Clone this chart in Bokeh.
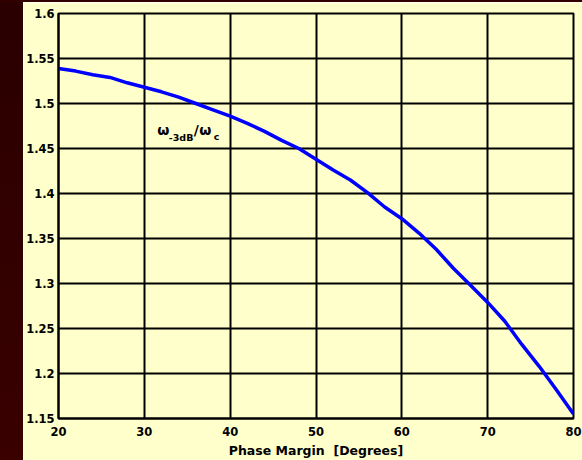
from bokeh.plotting import figure
from bokeh.layouts import row, column
from bokeh.models import Div, FixedTicker
from bokeh.core.properties import value
from bokeh.embed import file_html
from bokeh.resources import INLINE

# Bandwidth ratio w(-3dB)/wc versus phase margin
phase_margin = [20, 22, 24, 26, 28, 30, 32, 34, 36, 38, 40, 42, 44, 46, 48, 50,
                52, 54, 56, 58, 60, 62, 64, 66, 68, 70, 72, 74, 76, 78, 80]
bw_ratio = [1.539, 1.536, 1.532, 1.529, 1.523, 1.518, 1.513, 1.507, 1.500, 1.493,
            1.486, 1.478, 1.469, 1.459, 1.450, 1.438, 1.426, 1.415, 1.401, 1.385,
            1.372, 1.356, 1.338, 1.317, 1.298, 1.279, 1.258, 1.232, 1.208, 1.182, 1.155]

x_ticks = [20, 30, 40, 50, 60, 70, 80]
y_ticks = [1.15, 1.2, 1.25, 1.3, 1.35, 1.4, 1.45, 1.5, 1.55, 1.6]
y_tick_labels = {1.15: "1.15", 1.2: "1.2", 1.25: "1.25", 1.3: "1.3", 1.35: "1.35",
                 1.4: "1.4", 1.45: "1.45", 1.5: "1.5", 1.55: "1.55", 1.6: "1.6"}

# Label pieces for the curve name: (text, x, y, size)
curve_name = [("ω", 31.51, 1.4711, "14px"),
              ("-3dB", 32.85, 1.4622, "9.5px"),
              ("/", 35.76, 1.4711, "14px"),
              ("ω", 36.40, 1.4711, "14px"),
              ("c", 38.08, 1.4633, "9.5px")]

BG = "#FFFFCC"
DARK = "linear-gradient(#2a0000, #3a0000)"
FONT = "DejaVu Sans"

p = figure(width=559, height=458, x_range=(20, 80), y_range=(1.15, 1.6),
           output_backend="svg", toolbar_location=None,
           background_fill_color=BG, border_fill_color=BG,
           min_border_left=34, min_border_top=11, min_border_right=9,
           min_border_bottom=41)

p.line(phase_margin, bw_ratio, line_color="#0000FF", line_width=3.5)

for txt, tx, ty, size in curve_name:
    p.text(x=[tx], y=[ty], text=[txt], text_font=value(FONT),
           text_font_size=size, text_font_style="bold", text_color="black",
           text_baseline="alphabetic", text_align="left")

p.xaxis.ticker = FixedTicker(ticks=x_ticks)
p.yaxis.ticker = FixedTicker(ticks=y_ticks)
p.yaxis.major_label_overrides = y_tick_labels

for ax in (p.xaxis[0], p.yaxis[0]):
    ax.major_label_text_font = FONT
    ax.major_label_text_font_style = "bold"
    ax.major_label_text_font_size = "11.5px"
    ax.major_label_text_color = "black"
    ax.axis_line_color = "black"
    ax.axis_line_width = 2
    ax.major_tick_out = 0
    ax.major_tick_in = 0
    ax.minor_tick_out = 0
    ax.minor_tick_in = 0

p.xaxis.major_label_standoff = 8
p.yaxis.major_label_standoff = 4
p.xaxis.axis_label = "Phase Margin\u00a0 [Degrees]"
p.xaxis.axis_label_text_font = FONT
p.xaxis.axis_label_text_font_style = "bold"
p.xaxis.axis_label_text_font_size = "12.5px"
p.xaxis.axis_label_text_color = "black"
p.xaxis.axis_label_standoff = 4

p.grid.grid_line_color = "black"
p.grid.grid_line_width = 2
p.grid.grid_line_alpha = 1.0
p.outline_line_color = "black"
p.outline_line_width = 2

top_strip = Div(width=582, height=2, margin=0, styles={"background": DARK})
left_strip = Div(width=23, height=458, margin=0, styles={"background": DARK})

layout = column(top_strip, row(left_strip, p, spacing=0), spacing=0)

with open("out.html", "w") as f:
    f.write(file_html(layout, INLINE))
